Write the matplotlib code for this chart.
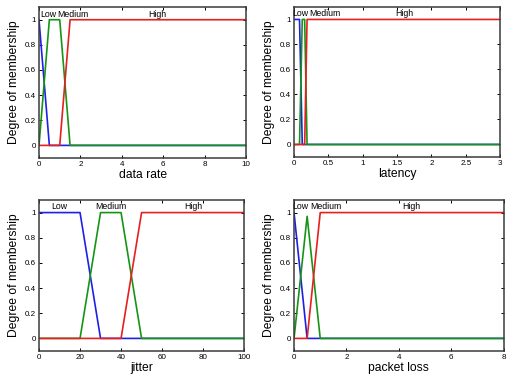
import numpy as np
import matplotlib; matplotlib.use('Agg')
import matplotlib.pyplot as plt

plt.rcParams['font.family'] = ['Liberation Sans', 'DejaVu Sans']

# membership functions: (x points, y points) for Low / Medium / High
rate_x = {'low': [0, 0.5, 10], 'med': [0, 0.5, 1, 1.5, 10], 'high': [0, 1, 1.5, 10]}
rate_y = {'low': [1, 0, 0], 'med': [0, 1, 1, 0, 0], 'high': [0, 0, 1, 1]}

lat_x = {'low': [0, 0.08, 0.12, 3], 'med': [0, 0.08, 0.12, 0.155, 0.19, 3], 'high': [0, 0.155, 0.19, 3]}
lat_y = {'low': [1, 1, 0, 0], 'med': [0, 0, 1, 1, 0, 0], 'high': [0, 0, 1, 1]}

jit_x = {'low': [0, 20, 30, 100], 'med': [0, 20, 30, 40, 50, 100], 'high': [0, 40, 50, 100]}
jit_y = {'low': [1, 1, 0, 0], 'med': [0, 0, 1, 1, 0, 0], 'high': [0, 0, 1, 1]}

pl_x = {'low': [0, 0.5, 8], 'med': [0, 0.5, 1, 8], 'high': [0, 0.5, 1, 8]}
pl_y = {'low': [1, 0, 0], 'med': [0, 0.97, 0, 0], 'high': [0, 0, 1, 1]}

panels = [
    # name, xs, ys, xmax, xticks, xticklabels, label x positions (Low, Medium, High)
    ('data rate', rate_x, rate_y, 10, [0, 2, 4, 6, 8, 10], ['0', '2', '4', '6', '8', '10'], [0.43, 1.63, 5.7]),
    ('latency', lat_x, lat_y, 3, [0, 0.5, 1, 1.5, 2, 2.5, 3], ['0', '0.5', '1', '1.5', '2', '2.5', '3'], [0.097, 0.45, 1.6]),
    ('jitter', jit_x, jit_y, 100, [0, 20, 40, 60, 80, 100], ['0', '20', '40', '60', '80', '100'], [10, 35, 75]),
    ('packet loss', pl_x, pl_y, 8, [0, 2, 4, 6, 8], ['0', '2', '4', '6', '8'], [0.25, 1.23, 4.47]),
]
yticks = [0, 0.2, 0.4, 0.6, 0.8, 1]
yticklabels = ['0', '0.2', '0.4', '0.6', '0.8', '1']
names = ['Low', 'Medium', 'High']
cols = {'low': '#1f1fe6', 'med': '#169416', 'high': '#e61f1f'}

rects = [[0.0753, 0.581, 0.400, 0.400],
         [0.5676, 0.5836, 0.398, 0.398],
         [0.0753, 0.069, 0.396, 0.4005],
         [0.5676, 0.069, 0.405, 0.4005]]

fig = plt.figure(figsize=(5.18, 3.77), dpi=100)
for rect, (xl, xs, ys, xmax, xt, xtl, lx) in zip(rects, panels):
    ax = fig.add_axes(rect)
    for k in ['low', 'med', 'high']:
        ax.plot(xs[k], ys[k], color=cols[k], lw=1.2)
    ax.set_xlim(0, xmax); ax.set_ylim(-0.1, 1.1)
    ax.set_xticks(xt); ax.set_xticklabels(xtl)
    ax.set_yticks(yticks); ax.set_yticklabels(yticklabels)
    ax.tick_params(direction='in', top=True, right=True, labelsize=5.8, length=2.5, width=0.7, pad=2)
    for s in ax.spines.values():
        s.set_linewidth(1.1); s.set_color('#3a3a3a')
    for x, t in zip(lx, names):
        ax.text(x, 1.045, t, ha='center', va='center', fontsize=6.3)
    ax.set_xlabel(xl, fontsize=8.7, labelpad=1)
    ax.set_ylabel('Degree of membership', fontsize=8.7, labelpad=4)

fig.savefig('out.png', dpi=100)
